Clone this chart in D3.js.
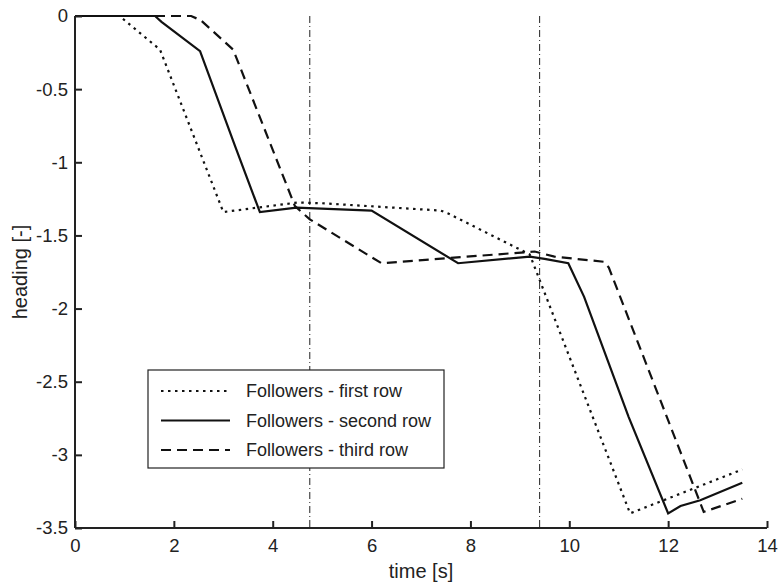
<!DOCTYPE html>
<html>
<head>
<meta charset="utf-8">
<script src="https://cdn.jsdelivr.net/npm/d3@7"></script>
<style>
  body { margin: 0; background: #fff; }
  text { font-family: "Liberation Sans", Arial, sans-serif; fill: #222; }
</style>
</head>
<body>
<div id="chart"></div>
<script>
// heading of the followers
let firstRowT  = [0, 0.9, 1.72, 3.0, 4.5, 5.0, 7.4, 7.55, 9.2, 11.23, 13.5];
let firstRowH  = [0, 0, -0.23, -1.34, -1.275, -1.28, -1.33, -1.35, -1.63, -3.4, -3.1];
let secondRowT = [0, 1.62, 1.75, 2.53, 3.25, 3.74, 4.48, 6.0, 7.75, 9.2, 9.5, 9.98, 10.3, 11.2, 12.0, 12.25, 12.65, 13.5];
let secondRowH = [0, 0, -0.04, -0.24, -0.9, -1.34, -1.31, -1.33, -1.69, -1.645, -1.66, -1.69, -1.92, -2.74, -3.4, -3.35, -3.31, -3.19];
let thirdRowT  = [0, 2.35, 2.55, 3.2, 4.45, 4.75, 6.2, 9.3, 9.7, 10.7, 10.8, 12.72, 13.5];
let thirdRowH  = [0, 0, -0.03, -0.23, -1.3, -1.39, -1.69, -1.61, -1.645, -1.68, -1.72, -3.39, -3.3];
let markerTimes = [4.75, 9.4];
let xTicks = [0, 2, 4, 6, 8, 10, 12, 14];
let yTicks = [0, -0.5, -1, -1.5, -2, -2.5, -3, -3.5];
let seriesNames = ["Followers - first row", "Followers - second row", "Followers - third row"];

let margin = {top: 16, right: 13, bottom: 55, left: 75},
    width = 780 - margin.left - margin.right,
    height = 583 - margin.top - margin.bottom;

let svg = d3.select("#chart")
  .append("svg")
    .attr("width", 780)
    .attr("height", 583)
  .append("g")
    .attr("transform", "translate(" + margin.left + "," + margin.top + ")");

let x = d3.scaleLinear().domain([0, 14]).range([0, width]);
let y = d3.scaleLinear().domain([-3.5, 0]).range([height, 0]);

let styles = [
  {dash: "2.5,4.5", width: 2.2},
  {dash: null, width: 2.2},
  {dash: "10,6", width: 2.2}
];

let series = [
  d3.zip(firstRowT, firstRowH),
  d3.zip(secondRowT, secondRowH),
  d3.zip(thirdRowT, thirdRowH)
];

// vertical dash-dot markers
svg.selectAll(".marker")
  .data(markerTimes)
  .enter().append("line")
    .attr("x1", d => x(d)).attr("x2", d => x(d))
    .attr("y1", 0).attr("y2", height)
    .attr("stroke", "#222")
    .attr("stroke-width", 1)
    .attr("stroke-dasharray", "7,3,1,3");

let line = d3.line()
  .x(d => x(d[0]))
  .y(d => y(d[1]));

series.forEach(function(s, i) {
  svg.append("path")
    .datum(s)
    .attr("fill", "none")
    .attr("stroke", "#111")
    .attr("stroke-width", styles[i].width)
    .attr("stroke-dasharray", styles[i].dash)
    .attr("d", line);
});

// axes, ticks inside
let xAxis = svg.append("g")
  .attr("transform", "translate(0," + height + ")")
  .call(d3.axisBottom(x).tickValues(xTicks).tickSize(-7).tickPadding(11).tickFormat(d3.format("d")));
let yAxis = svg.append("g")
  .call(d3.axisLeft(y).tickValues(yTicks).tickSize(-7).tickPadding(7).tickFormat(d => d));

[xAxis, yAxis].forEach(function(a) {
  a.select(".domain").attr("stroke", "#222").attr("stroke-width", 2);
  a.selectAll(".tick line").attr("stroke", "#222").attr("stroke-width", 2);
  a.selectAll(".tick text").attr("font-size", 18.5).attr("fill", "#222")
    .attr("font-family", "'Liberation Sans', Arial, sans-serif");
});
xAxis.select(".domain").attr("d", "M0,0H" + width);
yAxis.select(".domain").attr("d", "M0,0V" + height);

svg.append("text")
  .attr("x", width / 2)
  .attr("y", height + 50)
  .attr("text-anchor", "middle")
  .attr("font-size", 20)
  .text("time [s]");

svg.append("text")
  .attr("transform", "translate(" + (-48) + "," + (height / 2) + ") rotate(-90)")
  .attr("text-anchor", "middle")
  .attr("font-size", 20)
  .text("heading [-]");

// legend
let legend = svg.append("g").attr("transform", "translate(" + (148 - margin.left) + "," + (370 - margin.top) + ")");
legend.append("rect")
  .attr("width", 296).attr("height", 98)
  .attr("fill", "#fff").attr("stroke", "#222").attr("stroke-width", 1.2);

seriesNames.forEach(function(name, i) {
  let yy = 21 + i * 29.5;
  legend.append("line")
    .attr("x1", 13).attr("x2", 82)
    .attr("y1", yy).attr("y2", yy)
    .attr("stroke", "#111")
    .attr("stroke-width", styles[i].width)
    .attr("stroke-dasharray", styles[i].dash);
  legend.append("text")
    .attr("x", 98).attr("y", yy)
    .attr("dy", "0.35em")
    .attr("font-size", 18)
    .text(name);
});
</script>
</body>
</html>
